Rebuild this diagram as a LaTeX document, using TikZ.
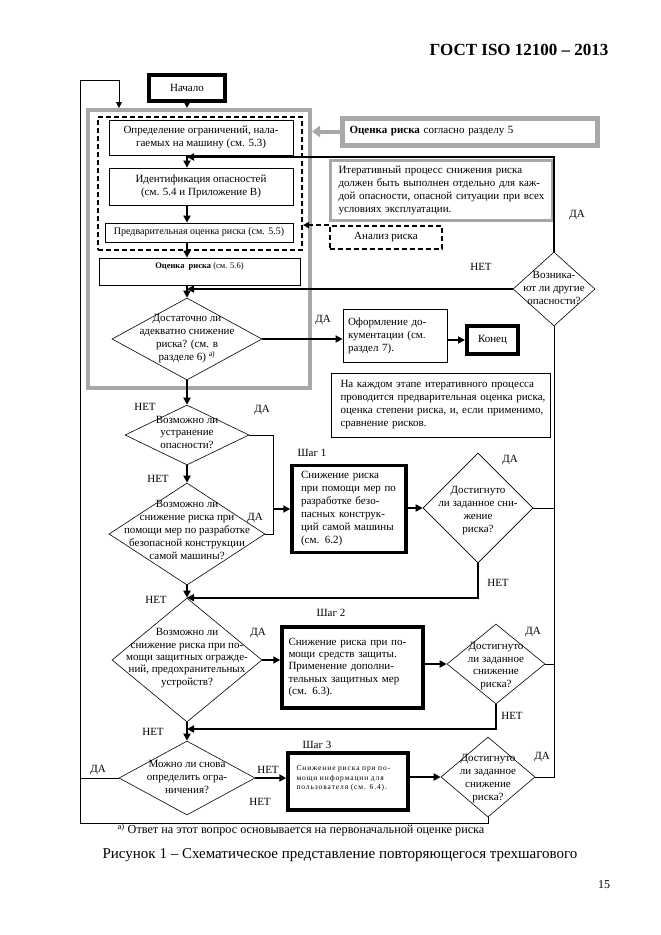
\documentclass[tikz,border=0pt]{standalone}
\usepackage{fontspec}
\setmainfont{Liberation Serif}
\usetikzlibrary{shapes.geometric,arrows.meta}
\definecolor{framegray}{RGB}{168,168,168}
\newcommand\jline[1]{\makebox[\linewidth][s]{#1}\\}
\begin{document}
\begin{tikzpicture}[x=1pt,y=-1pt,
    font=\fontsize{11}{13}\selectfont,
    box/.style={draw,line width=0.8pt,inner sep=0pt,align=center},
    stepbox/.style={draw,line width=3.5pt,inner sep=0pt,align=left},
    decision/.style={draw,diamond,line width=0.6pt,inner sep=0pt},
    qtext/.style={align=center,inner sep=0pt},
    tag/.style={inner sep=1pt},
    dashedline/.style={line width=1.8pt,dash pattern=on 5pt off 3pt},
    arr/.style={line width=2.2pt,-{Triangle[length=7pt,width=7pt]}},
    thinarr/.style={line width=0.8pt,-{Triangle[length=6pt,width=6pt]}},
    link/.style={line width=0.8pt}]
    \useasboundingbox (0,0) rectangle (661,935);
    \node[font=\fontsize{17}{19}\selectfont\bfseries,anchor=east] (head) at (612,50) {ГОСТ ISO 12100 – 2013};

    \coordinate (col) at (187,0);
    \coordinate (fork) at (273,0);
    \node[draw,line width=4pt,minimum width=76pt,minimum height=26pt,inner sep=0pt] (start) at (187,88) {Начало};
    \node[draw=framegray,line width=4pt,minimum width=222pt,minimum height=278pt] (assess) at (199,249) {};
    \node[draw,dashedline,minimum width=204pt,minimum height=133pt] (area) at (200,183.5) {};
    \node[box,minimum width=184pt,minimum height=35pt] (limits) at (201,137.5) {Определение ограничений, нала-\\гаемых на машину (см. 5.3)};
    \node[box,minimum width=184pt,minimum height=37pt] (hazards) at (201,186.5) {Идентификация опасностей\\(см. 5.4 и Приложение В)};
    \node[box,minimum width=188pt,minimum height=19pt,font=\fontsize{10}{11}\selectfont] (estim) at (199,232.5) {Предварительная оценка риска (см. 5.5)};
    \node[box,minimum width=201pt,minimum height=27pt,text depth=11pt,font=\fontsize{8.5}{9}\selectfont] (evalbox) at (199.5,271.5) {\textbf{Оценка\ \ риска} (см. 5.6)};

    \node[draw=framegray,line width=5pt,minimum width=255pt,minimum height=27pt,text width=240pt,align=left,inner sep=0pt] (ref5) at (469.5,131.5) {\textbf{Оценка риска} согласно разделу 5};
    \node[draw=framegray,line width=3pt,minimum width=222pt,minimum height=60pt,text width=205pt,align=left,inner sep=0pt] (iter) at (441,190) {\jline{Итеративный процесс снижения риска}\jline{должен быть выполнен отдельно для каж-}\jline{дой опасности, опасной ситуации при всех}условиях эксплуатации.};
    \node[draw,dashedline,minimum width=112pt,minimum height=23pt,inner sep=0pt] (analysis) at (386,237.5) {Анализ риска};

    \node[decision,minimum width=82pt,minimum height=74pt] (other) at (554,289) {};
    \node[qtext] (othert) at (554,288) {Возника-\\ют ли другие\\опасности?};

    \node[decision,minimum width=150pt,minimum height=82pt] (q1) at (187,339) {};
    \node[qtext] (q1t) at (187,339) {Достаточно ли\\адекватно снижение\\риска? (см. в\\разделе 6) \textsuperscript{а)}};
    \node[box,minimum width=104pt,minimum height=53pt,text width=94pt,align=left] (docs) at (395,335.5) {\jline{Оформление до-}\jline{кументации (см.}раздел 7).};
    \node[draw,line width=4pt,minimum width=51pt,minimum height=28pt,inner sep=0pt] (stop) at (492.5,340) {Конец};
    \node[box,minimum width=219pt,minimum height=64pt,text width=200pt,align=left] (each) at (440.5,405) {\jline{На каждом этапе итеративного процесса}\jline{проводится предварительная оценка риска,}\jline{оценка степени риска, и, если применимо,}сравнение рисков.};

    \node[decision,minimum width=124pt,minimum height=60pt] (q2) at (187,435) {};
    \node[qtext,font=\fontsize{11}{12.5}\selectfont] (q2t) at (187,432) {Возможно ли\\устранение\\опасности?};

    \node[decision,minimum width=156pt,minimum height=102pt] (q3) at (187,534) {};
    \node[qtext] (q3t) at (187,530) {Возможно ли\\снижение риска при\\помощи мер по разработке\\безопасной конструкции\\самой машины?};
    \node[stepbox,minimum width=114pt,minimum height=87pt,text width=96pt] (step1) at (349,509) {\jline{Снижение риска}\jline{при помощи мер по}\jline{разработке безо-}\jline{пасных конструк-}\jline{ций самой машины}(см. 6.2)};
    \node[decision,minimum width=110pt,minimum height=110pt] (r1) at (478,508) {};
    \node[qtext] (r1t) at (478,511) {Достигнуто\\ли заданное сни-\\жение\\риска?};

    \node[decision,minimum width=150pt,minimum height=124pt] (q4) at (187,660) {};
    \node[qtext,font=\fontsize{11}{12.3}\selectfont] (q4t) at (187,658) {Возможно ли\\снижение риска при по-\\мощи защитных огражде-\\ний, предохранительных\\устройств?};
    \node[stepbox,minimum width=141pt,minimum height=81pt,text width=128pt,font=\fontsize{11}{12.3}\selectfont] (step2) at (352.5,667.5) {\jline{Снижение риска при по-}\jline{мощи средств защиты.}\jline{Применение дополни-}\jline{тельных защитных мер}(см. 6.3).};
    \node[decision,minimum width=98pt,minimum height=80pt] (r2) at (496,664) {};
    \node[qtext,font=\fontsize{11}{12.5}\selectfont] (r2t) at (496,666) {Достигнуто\\ли заданное\\снижение\\риска?};

    \node[decision,minimum width=136pt,minimum height=74pt] (q5) at (187,778) {};
    \node[qtext] (q5t) at (187,777) {Можно ли снова\\определить огра-\\ничения?};
    \node[stepbox,minimum width=120pt,minimum height=57pt,text width=103pt,text depth=26pt,font=\fontsize{7.5}{9.5}\selectfont\addfontfeature{LetterSpace=12}] (step3) at (348,781.5) {\jline{Снижение риска при по-}\jline{мощи информации для}пользователя (см. 6.4).};
    \node[decision,minimum width=94pt,minimum height=80pt] (r3) at (488,777) {};
    \node[qtext] (r3t) at (488,779) {Достигнуто\\ли заданное\\снижение\\риска?};

    \draw[arr] (start) -- (start |- assess.north);
    \draw[arr] (limits.south -| col) -- (hazards.north -| col);
    \draw[arr] (hazards.south -| col) -- (estim.north -| col);
    \draw[arr] (estim.south -| col) -- (evalbox.north -| col);
    \draw[arr] (evalbox.south -| col) -- (q1.north);
    \draw[arr,framegray,line width=4pt,-{Triangle[length=8pt,width=11pt]}] (ref5.west) -- (ref5.west -| assess.east);
    \draw[dashedline,-{Triangle[length=6pt,width=6pt]}] (analysis.north west) -- (analysis.north west -| area.east);

    \coordinate (j1) at (187,157);
    \draw[arr] (other.north) |- (j1);
    \draw[arr] (other.west) -- (other.west -| col);
    \draw[arr] (q1.east) -- (q1.east -| docs.west);
    \draw[arr] (docs.east |- stop) -- (stop.west);

    \draw[arr] (q1.south) -- (q2.north);
    \draw[link] (q2.east) -| (q3.east -| fork) -- (q3.east);
    \draw[arr] (step1.west -| fork) -- (step1.west);
    \draw[arr] (q2.south) -- (q3.north);
    \draw[arr] (step1.east |- r1) -- (r1.west);
    \draw[arr] (r1.south) |- (q4.north);

    \draw[arr] (q3.south) -- (q4.north);
    \draw[arr] (q4.east) -- (q4.east -| step2.west);
    \draw[arr] (step2.east |- r2) -- (r2.west);
    \coordinate (j4) at (187,729);
    \draw[arr] (r2.south) |- (j4);

    \draw[arr] (q4.south) -- (q5.north);
    \draw[arr] (q5.east) -- (q5.east -| step3.west);
    \draw[arr] (step3.east |- r3) -- (r3.west);

    \draw[link] (r3.east) -| (other.south);
    \draw[link] (r1.east) -- (r1.east -| other.south);
    \draw[link] (r2.east) -- (r2.east -| other.south);

    \coordinate (loopbl) at (80,823);
    \coordinate (looptl) at (80,80);
    \coordinate (loopin) at (119,0);
    \draw[thinarr] (r3.south) |- (loopbl) -- (looptl) -| (loopin |- assess.north);
    \draw[link] (q5.west) -- (q5.west -| loopbl);

    \node[tag] (yes1) at (577,215) {ДА};
    \node[tag] (no1) at (481,267) {НЕТ};
    \node[tag] (yes2) at (323,320) {ДА};
    \node[tag] (no2) at (145,407) {НЕТ};
    \node[tag] (yes3) at (262,410) {ДА};
    \node[tag] (no3) at (158,479) {НЕТ};
    \node[tag] (yes4) at (255,518) {ДА};
    \node[tag] (step1tag) at (312,453) {Шаг 1};
    \node[tag] (yes5) at (510,460) {ДА};
    \node[tag] (no5) at (498,583) {НЕТ};
    \node[tag] (no4) at (156,600) {НЕТ};
    \node[tag] (step2tag) at (331,613) {Шаг 2};
    \node[tag] (yes6) at (258,633) {ДА};
    \node[tag] (yes7) at (533,632) {ДА};
    \node[tag] (no7) at (512,716) {НЕТ};
    \node[tag] (no6) at (153,732) {НЕТ};
    \node[tag] (yes8) at (98,770) {ДА};
    \node[tag] (no8) at (268,770) {НЕТ};
    \node[tag] (no9) at (260,802) {НЕТ};
    \node[tag] (step3tag) at (317,745) {Шаг 3};
    \node[tag] (yes9) at (542,757) {ДА};

    \node[anchor=west,font=\fontsize{12.2}{13}\selectfont] (foot) at (114,830) {\textsuperscript{а)} Ответ на этот вопрос основывается на первоначальной оценке риска};
    \node[font=\fontsize{15}{17}\selectfont] (caption) at (340,855) {Рисунок 1 – Схематическое представление повторяющегося трехшагового};
    \node[font=\fontsize{12}{14}\selectfont] (page) at (604,885) {15};
\end{tikzpicture}
\end{document}
